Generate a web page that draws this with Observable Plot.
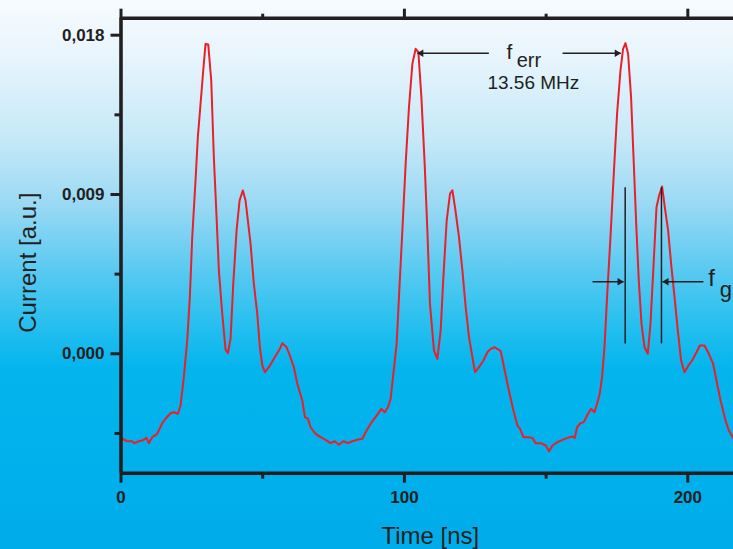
<!DOCTYPE html>
<html>
<head>
<meta charset="utf-8">
<script src="https://cdn.jsdelivr.net/npm/d3@7"></script>
<script src="https://cdn.jsdelivr.net/npm/@observablehq/plot@0.6"></script>
<style>
  html, body { margin: 0; padding: 0; overflow: hidden; }
  body {
    width: 733px; height: 549px;
    background: linear-gradient(to bottom,
      #f7fbfe 0%, #e8f5fc 10%, #c6e9f8 25%, #9bd9f4 37%,
      #55c9f1 50%, #22beef 60%, #04b5ed 67%, #00b0eb 85%, #00acea 100%);
  }
  #chart svg { display: block; background: transparent !important; }
</style>
</head>
<body>
<div id="chart"></div>
<script>
// Time axis [ns]
const time = [0.42,2.19,3.95,4.77,6.28,7.48,9.00,9.81,11.02,12.78,
  14.55,15.71,17.48,18.64,20.05,21.01,22.17,23.37,24.29,25.14,
  26.30,27.11,28.07,29.02,29.83,30.79,31.84,32.76,33.72,34.53,
  35.73,36.89,37.71,38.66,39.61,40.78,41.84,43.00,43.95,45.72,
  46.88,48.08,49.00,49.85,50.77,52.18,53.95,56.06,56.91,58.43,
  59.59,61.01,62.21,63.97,64.89,65.95,66.90,68.67,70.43,72.20,
  73.96,75.37,76.89,78.45,80.07,81.62,83.39,85.15,86.32,88.08,
  90.20,91.86,93.03,94.19,95.15,96.10,97.26,98.08,99.28,100.44,
  101.61,102.81,103.97,104.93,105.99,107.15,108.10,109.02,110.43,111.63,
  112.80,113.75,114.92,116.08,116.93,117.85,119.26,120.46,121.62,122.79,
  123.99,124.91,126.32,127.87,129.28,130.45,131.86,133.98,135.15,136.35,
  137.26,138.46,139.88,140.80,142.00,143.41,145.17,146.34,148.10,149.87,
  151.03,152.23,154.00,155.76,157.53,159.29,160.11,160.92,162.12,163.28,
  164.45,165.86,167.06,167.98,168.93,169.74,170.59,171.51,172.71,173.88,
  175.04,176.24,177.16,178.01,178.93,179.98,180.94,181.89,182.70,183.66,
  184.71,185.88,186.83,187.75,188.95,189.87,190.93,191.88,193.05,194.11,
  195.31,196.47,197.63,198.83,200.00,201.52,203.07,204.24,205.90,207.41,
  208.93,210.34,211.54,213.31,214.47,215.99];

// Current [a.u.]
const current = [-0.00480,-0.00494,-0.00494,-0.00505,-0.00494,-0.00490,-0.00475,-0.00505,-0.00471,-0.00452,
  -0.00392,-0.00367,-0.00336,-0.00330,-0.00339,-0.00292,-0.00132,0.00075,0.00320,0.00659,
  0.00979,0.01224,0.01412,0.01601,0.01751,0.01747,0.01544,0.01111,0.00772,0.00471,
  0.00226,0.00023,0.00003,0.00085,0.00395,0.00697,0.00866,0.00923,0.00866,0.00621,
  0.00395,0.00226,0.00037,-0.00066,-0.00104,-0.00076,-0.00028,0.00028,0.00060,0.00037,
  -0.00010,-0.00076,-0.00169,-0.00264,-0.00358,-0.00367,-0.00415,-0.00452,-0.00471,-0.00486,
  -0.00505,-0.00494,-0.00514,-0.00494,-0.00505,-0.00494,-0.00486,-0.00480,-0.00443,-0.00395,
  -0.00349,-0.00311,-0.00330,-0.00302,-0.00254,-0.00113,0.00056,0.00320,0.00697,0.01073,
  0.01393,0.01638,0.01723,0.01704,0.01450,0.01073,0.00697,0.00282,0.00019,-0.00028,
  0.00132,0.00433,0.00753,0.00904,0.00923,0.00828,0.00659,0.00471,0.00263,0.00094,
  -0.00019,-0.00104,-0.00076,-0.00038,0.00009,0.00028,0.00037,0.00015,-0.00076,-0.00169,
  -0.00236,-0.00320,-0.00405,-0.00424,-0.00471,-0.00471,-0.00475,-0.00505,-0.00505,-0.00518,
  -0.00550,-0.00518,-0.00499,-0.00486,-0.00475,-0.00467,-0.00475,-0.00415,-0.00392,-0.00386,
  -0.00349,-0.00311,-0.00330,-0.00282,-0.00226,-0.00132,0.00037,0.00320,0.00659,0.01017,
  0.01356,0.01601,0.01723,0.01755,0.01695,0.01450,0.01073,0.00697,0.00414,0.00169,
  0.00037,0.00000,0.00169,0.00452,0.00828,0.00894,0.00945,0.00828,0.00697,0.00508,
  0.00320,0.00132,-0.00038,-0.00104,-0.00072,-0.00038,0.00009,0.00047,0.00047,0.00000,
  -0.00056,-0.00169,-0.00264,-0.00377,-0.00433,-0.00475];

// Axis domains and ticks
const xDomain = [0, 216.12];
const yDomain = [-0.006746, 0.01896];
const xMajorTicks = [0, 100, 200];
const xMinorTicks = [50, 150];
const yMajorTicks = [0, 0.009, 0.018];
const yMinorTicks = [-0.0045, 0.0045, 0.0135];

// Annotations: f_err arrows (t start, t end, level)
const ferrArrowFrom = [129.8, 155.8];
const ferrArrowTo = [104.6, 176.3];
const ferrLevel = 0.01698;
// f_g arrows and bars
const fgArrowFrom = [166.4, 205.5];
const fgArrowTo = [177.3, 191.1];
const fgLevel = 0.00407;
const fgBarT = [177.9, 190.7];
const fgBarLow = 0.00056;
const fgBarHigh = 0.00938;

// labels
const labelText = ["f", "err", "13.56 MHz", "f", "g"];
const labelT = [136.0, 139.6, 129.3, 207.2, 211.3];
const labelV = [0.01705, 0.01654, 0.01528, 0.00424, 0.00361];
const labelSize = [21, 20, 19, 24, 22];

const ink = "#231f20";
const red = "#ea1f29";

const table = time.map((t, i) => ({time: t, current: current[i]}));
const arrows = [
  ...ferrArrowFrom.map((f, i) => ({x1: f, x2: ferrArrowTo[i], y: ferrLevel})),
  ...fgArrowFrom.map((f, i) => ({x1: f, x2: fgArrowTo[i], y: fgLevel}))
];
const rightHeads = arrows.filter(a => a.x2 > a.x1);
const leftHeads = arrows.filter(a => a.x2 < a.x1);
const bars = fgBarT.map(t => ({x: t, y1: fgBarLow, y2: fgBarHigh}));
const labels = labelText.map((s, i) => ({text: s, x: labelT[i], y: labelV[i], size: labelSize[i]}));

const fmt = d => d.toFixed(3).replace(".", ",");

const chart = Plot.plot({
  width: 733,
  height: 549,
  marginLeft: 120.5,
  marginRight: 0,
  marginTop: 17.7,
  marginBottom: 76.3,
  x: {domain: xDomain},
  y: {domain: yDomain},
  style: {background: "transparent", fontFamily: "'Liberation Sans', Arial, sans-serif", color: ink},
  marks: [
    Plot.line(table, {x: "time", y: "current", stroke: red, strokeWidth: 2, clip: true}),
    // annotations
    Plot.link(arrows, {x1: "x1", x2: "x2", y1: "y", y2: "y", stroke: ink, strokeWidth: 1.5}),
    Plot.dot(rightHeads, {x: "x2", y: "y", symbol: "triangle", r: 2.7, fill: ink, stroke: "none", rotate: 90, dx: -3.8}),
    Plot.dot(leftHeads, {x: "x2", y: "y", symbol: "triangle", r: 2.7, fill: ink, stroke: "none", rotate: -90, dx: 3.8}),
    Plot.ruleX(bars, {x: "x", y1: "y1", y2: "y2", stroke: ink, strokeWidth: 1.5}),
    Plot.text(labels, {x: "x", y: "y", text: "text", fontSize: "size", textAnchor: "start", fill: ink}),
    // frame lines
    Plot.ruleX([xDomain[0]], {stroke: ink, strokeWidth: 3.6}),
    Plot.ruleY([yDomain[1]], {stroke: ink, strokeWidth: 3.4}),
    Plot.ruleY([yDomain[0]], {stroke: ink, strokeWidth: 3.4}),
    // axes
    Plot.axisY({ticks: yMajorTicks, tickSize: 10, tickPadding: 6.5, strokeWidth: 3, stroke: ink, fill: ink,
      tickFormat: fmt, fontSize: 17, fontWeight: "bold", label: null}),
    Plot.axisY({ticks: yMinorTicks, tickSize: 6, strokeWidth: 3, stroke: ink, tickFormat: () => "", label: null}),
    Plot.axisX({ticks: xMajorTicks, tickSize: 10, tickPadding: 8, strokeWidth: 3, stroke: ink, fill: ink,
      tickFormat: d => String(d), fontSize: 17, fontWeight: "bold", label: null}),
    Plot.axisX({ticks: xMinorTicks, tickSize: 6, strokeWidth: 3, stroke: ink, tickFormat: () => "", label: null}),
    Plot.axisX({anchor: "top", ticks: xMajorTicks, tickSize: 10, strokeWidth: 3, stroke: ink, tickFormat: () => "", label: null}),
    Plot.axisX({anchor: "top", ticks: xMinorTicks, tickSize: 5, strokeWidth: 3, stroke: ink, tickFormat: () => "", label: null}),
    // axis titles
    Plot.text(["Time [ns]"], {text: d => d, frameAnchor: "bottom", textAnchor: "middle", lineAnchor: "middle",
      dx: 3, dy: 63, fontSize: 24, fill: ink}),
    Plot.text(["Current [a.u.]"], {text: d => d, frameAnchor: "left", textAnchor: "middle", lineAnchor: "middle",
      rotate: -90, dx: -93, dy: 17, fontSize: 24, fill: ink})
  ]
});
document.getElementById("chart").appendChild(chart);
</script>
</body>
</html>
